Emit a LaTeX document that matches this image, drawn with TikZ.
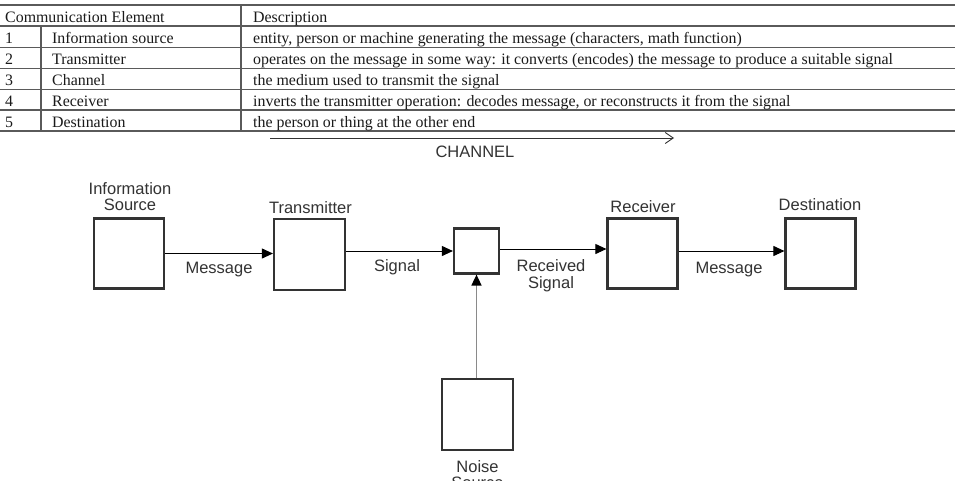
\documentclass[tikz,border=0pt]{standalone}
\usepackage{fontspec}
\setmainfont{Liberation Serif}
\setsansfont{Liberation Sans}
\usetikzlibrary{arrows.meta}
\definecolor{tline}{HTML}{5A5A5A}
\definecolor{bline}{HTML}{333333}
\definecolor{nline}{HTML}{8A8A8A}
\definecolor{ink}{HTML}{1A1A1A}
\tikzset{
  tabtxt/.style={anchor=base west, inner sep=0pt, text=ink, font=\fontsize{15.9}{18}\selectfont},
  lbl/.style={anchor=base, inner sep=0pt, text=bline, font=\sffamily\fontsize{16.5}{16}\selectfont},
  blk/.style={draw=bline, line width=2.2pt, minimum width=#1, minimum height=#1, inner sep=0pt},
  arr/.style={draw=black, line width=1pt, -{Triangle[length=11pt,width=10pt]}},
  tabline/.style={draw=tline, line width=1.6pt}
}
\begin{document}
\begin{tikzpicture}[x=1pt,y=-1pt]
\useasboundingbox (0,0) rectangle (955,480);
\clip (0,0) rectangle (955,480);
\fill[white] (0,0) rectangle (955,480);
% table
\foreach \yy in {5,26,47.3,68.3,89.3,110.2,131} \draw[tabline] (0,\yy) -- (955,\yy);
\draw[tabline] (41,26) -- (41,131);
\draw[tabline] (241,5) -- (241,131);
\node[tabtxt] (h1) at (5,22) {Communication Element};
\node[tabtxt] (h2) at (253,22) {Description};
\node[tabtxt] (n1) at (5,43) {1};
\node[tabtxt] (e1) at (52,43) {Information source};
\node[tabtxt] (d1) at (253,43) {entity, person or machine generating the message (characters, math function)};
\node[tabtxt] (n2) at (5,64) {2};
\node[tabtxt] (e2) at (52,64) {Transmitter};
\node[tabtxt] (d2) at (253,64) {operates on the message in some way: it converts (encodes) the message to produce a suitable signal};
\node[tabtxt] (n3) at (5,85) {3};
\node[tabtxt] (e3) at (52,85) {Channel};
\node[tabtxt] (d3) at (253,85) {the medium used to transmit the signal};
\node[tabtxt] (n4) at (5,106) {4};
\node[tabtxt] (e4) at (52,106) {Receiver};
\node[tabtxt] (d4) at (253,106) {inverts the transmitter operation: decodes message, or reconstructs it from the signal};
\node[tabtxt] (n5) at (5,127) {5};
\node[tabtxt] (e5) at (52,127) {Destination};
\node[tabtxt] (d5) at (253,127) {the person or thing at the other end};
% channel arrow
\coordinate (cha) at (270,138);
\coordinate (chb) at (674,138);
\draw[line width=0.9pt, draw=bline, -{Straight Barb[length=8pt,width=11pt]}] (cha) -- (chb);
\node[lbl] (chl) at (475,157) {CHANNEL};
% blocks
\node[blk=70pt] (src) at (129,253.5) {};
\node[blk=71pt] (tx) at (309.5,254.5) {};
\node[blk=45pt] (ch) at (476.5,251) {};
\node[blk=70pt] (rx) at (642.5,253.5) {};
\node[blk=70pt] (dst) at (820.5,253.5) {};
\node[blk=71pt] (noise) at (477.5,414.5) {};
% labels
\node[lbl] (lsrc1) at (130,194) {Information};
\node[lbl] (lsrc2) at (130,210) {Source};
\node[lbl] (ltx) at (310.5,213) {Transmitter};
\node[lbl] (lrx) at (643,212) {Receiver};
\node[lbl] (ldst) at (820,210) {Destination};
\node[lbl] (lm1) at (219,273) {Message};
\node[lbl] (lsig) at (397,271) {Signal};
\node[lbl] (lrs1) at (551,271) {Received};
\node[lbl] (lrs2) at (551,288) {Signal};
\node[lbl] (lm2) at (729,273) {Message};
\node[lbl] (ln1) at (477.5,472) {Noise};
\node[lbl] (ln2) at (477.5,488) {Source};
% connectors
\draw[arr] (src.east) -- (src.east -| tx.west);
\draw[arr] (ch.west -| tx.east) -- (ch.west);
\draw[arr] ([yshift=2pt]ch.east) -- ([yshift=2pt]ch.east -| rx.west);
\draw[arr] ([yshift=2.5pt]rx.east) -- ([yshift=2.5pt]rx.east -| dst.west);
\draw[draw=nline, line width=1.6pt, -{Triangle[length=11pt,width=10pt,color=black]}] ([xshift=-1pt]noise.north) -- ([xshift=-1pt]noise.north |- ch.south);
\end{tikzpicture}
\end{document}
